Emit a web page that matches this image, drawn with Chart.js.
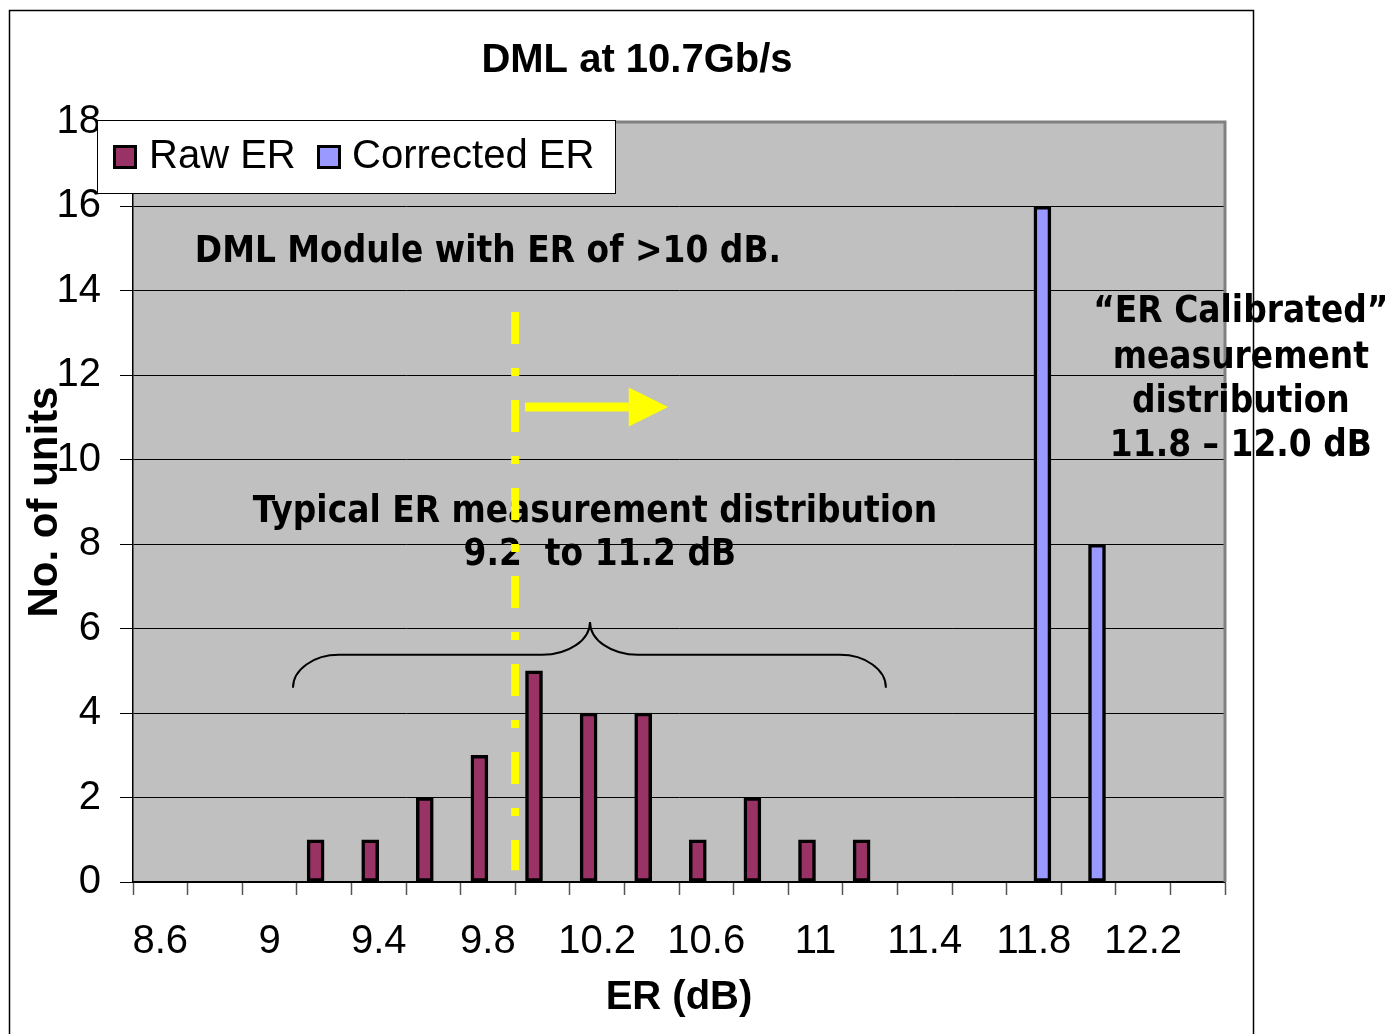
<!DOCTYPE html>
<html>
<head>
<meta charset="utf-8">
<title>DML at 10.7Gb/s</title>
<script src="https://cdn.jsdelivr.net/npm/chart.js@4.4.1/dist/chart.umd.min.js"></script>
<style>
  html, body { margin: 0; padding: 0; background: #fff; }
  #wrap { width: 1388px; height: 1034px; }
</style>
</head>
<body>
<div id="wrap"><canvas id="erChart" width="1388" height="1034"></canvas></div>
<script>
/* global Chart */
// ER histogram bins (dB), one category per 0.2 dB
const erBins = [
  "8.6", "8.8", "9.0", "9.2", "9.4", "9.6", "9.8", "10.0", "10.2", "10.4",
  "10.6", "10.8", "11.0", "11.2", "11.4", "11.6", "11.8", "12.0", "12.2", "12.4",
];
// labels printed under every second bin
const xTickLabels = ["8.6", "9", "9.4", "9.8", "10.2", "10.6", "11", "11.4", "11.8", "12.2"];
// number of units per bin
const rawER = [null, null, null, 1, 1, 2, 3, 5, 4, 4, 1, 2, 1, 1, null, null, null, null, null, null];
const correctedER = [null, null, null, null, null, null, null, null, null, null, null, null, null, null, null, null, 16, 8, null, null];
const yMin = 0;
const yMax = 18;
const yStep = 2;

(function () {
  const SANS = '"Liberation Sans", Arial, sans-serif';
  const NOTE_FONT = 'bold 37px "DejaVu Sans", Verdana, sans-serif';
  const NOTE_SQUEEZE = 0.89;
  const YELLOW = "#ffff00";

  function note(ctx, text, x, y) {
    ctx.save();
    ctx.font = NOTE_FONT;
    ctx.textAlign = "center";
    ctx.textBaseline = "alphabetic";
    ctx.fillStyle = "#000";
    ctx.translate(x, y);
    ctx.scale(NOTE_SQUEEZE, 1);
    ctx.fillText(text, 0, 0);
    ctx.restore();
  }

  // outer frame + grey plot area
  const backdrop = {
    id: "backdrop",
    beforeDraw(chart) {
      const { ctx, chartArea: a } = chart;
      ctx.save();
      ctx.fillStyle = "#fff";
      ctx.fillRect(0, 0, chart.width, chart.height);
      ctx.strokeStyle = "#000";
      ctx.lineWidth = 1.5;
      ctx.strokeRect(9.5, 10.5, 1244, 1040);
      ctx.fillStyle = "#c0c0c0";
      ctx.fillRect(a.left, a.top, a.right - a.left, a.bottom - a.top);
      ctx.restore();
    },
  };

  // title, legend box and the hand-drawn notes
  const overlay = {
    id: "overlay",
    afterDatasetsDraw(chart) {
      const { ctx, chartArea: a } = chart;
      const x = chart.scales.x;
      const y = chart.scales.y;
      const sx = (i) => x.getPixelForValue(i);
      const sy = (v) => y.getPixelForValue(v);

      ctx.save();
      // plot border (top / right)
      ctx.strokeStyle = "#808080";
      ctx.lineWidth = 3;
      ctx.beginPath();
      ctx.moveTo(a.left, a.top);
      ctx.lineTo(a.right, a.top);
      ctx.lineTo(a.right, a.bottom);
      ctx.stroke();

      // title
      ctx.fillStyle = "#000";
      ctx.font = "bold 40px " + SANS;
      ctx.textAlign = "center";
      ctx.textBaseline = "middle";
      ctx.fillText("DML at 10.7Gb/s", 637, 61);

      // legend
      ctx.fillStyle = "#fff";
      ctx.fillRect(97.5, 120.5, 518, 73);
      ctx.strokeStyle = "#000";
      ctx.lineWidth = 1;
      ctx.strokeRect(97.5, 120.5, 518, 73);
      const items = [
        { ds: chart.data.datasets[0], mx: 113, tx: 149 },
        { ds: chart.data.datasets[1], mx: 317, tx: 352 },
      ];
      ctx.font = "40px " + SANS;
      ctx.textAlign = "left";
      ctx.textBaseline = "alphabetic";
      for (const it of items) {
        ctx.fillStyle = it.ds.backgroundColor;
        ctx.fillRect(it.mx, 145, 24, 24);
        ctx.lineWidth = 3;
        ctx.strokeStyle = "#000";
        ctx.strokeRect(it.mx + 1.5, 146.5, 21, 21);
        ctx.fillStyle = "#000";
        ctx.fillText(it.ds.label, it.tx, 168);
      }

      // notes
      note(ctx, "DML Module with ER of >10 dB.", sx(6.0), sy(14.68));
      note(ctx, "Typical ER measurement distribution", sx(7.96), sy(8.53));
      note(ctx, "9.2  to 11.2 dB", sx(8.05), sy(7.51));
      note(ctx, "\u201CER Calibrated\u201D", sx(19.79), sy(13.26));
      note(ctx, "measurement", sx(19.79), sy(12.17));
      note(ctx, "distribution", sx(19.79), sy(11.13));
      note(ctx, "11.8 \u2013 12.0 dB", sx(19.79), sy(10.09));

      // brace under the typical range
      const L = { x: sx(2.43), y: sy(4.6) };
      const R = { x: sx(13.29), y: sy(4.6) };
      const T = { x: sx(7.87), y: sy(6.16) };
      const H = sy(5.38);
      const rx = 46;
      const rx2 = 48;
      ctx.strokeStyle = "#000";
      ctx.lineWidth = 2;
      ctx.beginPath();
      ctx.moveTo(L.x, L.y);
      ctx.ellipse(L.x + rx, L.y, rx, L.y - H, 0, Math.PI, 1.5 * Math.PI);
      ctx.lineTo(T.x - rx2, H);
      ctx.ellipse(T.x - rx2, T.y, rx2, H - T.y, 0, 0.5 * Math.PI, 0, true);
      ctx.ellipse(T.x + rx2, T.y, rx2, H - T.y, 0, Math.PI, 0.5 * Math.PI, true);
      ctx.lineTo(R.x - rx, H);
      ctx.ellipse(R.x - rx, R.y, rx, R.y - H, 0, 1.5 * Math.PI, 2 * Math.PI);
      ctx.stroke();

      // yellow threshold line at 10 dB and arrow
      const lx = sx(6.5);
      ctx.strokeStyle = YELLOW;
      ctx.lineWidth = 8;
      ctx.setLineDash([32, 24, 8, 24]);
      ctx.beginPath();
      ctx.moveTo(lx, sy(13.5));
      ctx.lineTo(lx, sy(0.28));
      ctx.stroke();
      ctx.setLineDash([]);

      const ay = sy(11.25);
      const tip = sx(9.3);
      const headBase = sx(8.58);
      ctx.fillStyle = YELLOW;
      ctx.fillRect(sx(6.68), ay - 4.5, headBase - sx(6.68), 9);
      ctx.beginPath();
      ctx.moveTo(headBase, ay - 19.5);
      ctx.lineTo(tip, ay);
      ctx.lineTo(headBase, ay + 19.5);
      ctx.closePath();
      ctx.fill();
      ctx.restore();
    },
  };

  // eslint-disable-next-line no-new
  new Chart(document.getElementById("erChart"), {
    type: "bar",
    data: {
      labels: erBins,
      datasets: [
        {
          label: "Raw ER",
          data: rawER,
          backgroundColor: "#993366",
          borderColor: "#000",
          borderWidth: 3.5,
          borderSkipped: false,
          barThickness: 17,
        },
        {
          label: "Corrected ER",
          data: correctedER,
          backgroundColor: "#9999ff",
          borderColor: "#000",
          borderWidth: 3.5,
          borderSkipped: false,
          barThickness: 17,
        },
      ],
    },
    options: {
      responsive: false,
      animation: false,
      devicePixelRatio: 1,
      layout: { padding: { left: 10, right: 163, top: 122, bottom: 0 } },
      plugins: {
        legend: { display: false },
        title: { display: false },
        tooltip: { enabled: false },
      },
      scales: {
        x: {
          afterFit: (s) => { s.height = 152; },
          grid: {
            offset: true,
            drawOnChartArea: false,
            tickLength: 13,
            tickColor: "#555",
            tickWidth: 1.5,
          },
          border: { color: "#000", width: 1.5 },
          ticks: {
            autoSkip: false,
            maxRotation: 0,
            padding: 23,
            color: "#000",
            font: { family: SANS, size: 40 },
            callback: (v, i) => (i % 2 === 0 ? xTickLabels[i / 2] : ""),
          },
          title: {
            display: true,
            text: "ER (dB)",
            color: "#000",
            font: { family: SANS, size: 40, weight: "bold" },
            padding: { top: 0, bottom: 12 },
          },
        },
        y: {
          min: yMin,
          max: yMax,
          afterFit: (s) => { s.width = 123; },
          grid: {
            color: "#000",
            lineWidth: 1,
            tickLength: 13,
            tickColor: "#000",
          },
          border: { color: "#000", width: 1.5 },
          ticks: {
            stepSize: yStep,
            padding: 19,
            color: "#000",
            font: { family: SANS, size: 40 },
          },
          title: {
            display: true,
            text: "No. of units",
            color: "#000",
            font: { family: SANS, size: 42, weight: "bold" },
            padding: { top: 10, bottom: 0 },
          },
        },
      },
    },
    plugins: [backdrop, overlay],
  });
})();
</script>
</body>
</html>
